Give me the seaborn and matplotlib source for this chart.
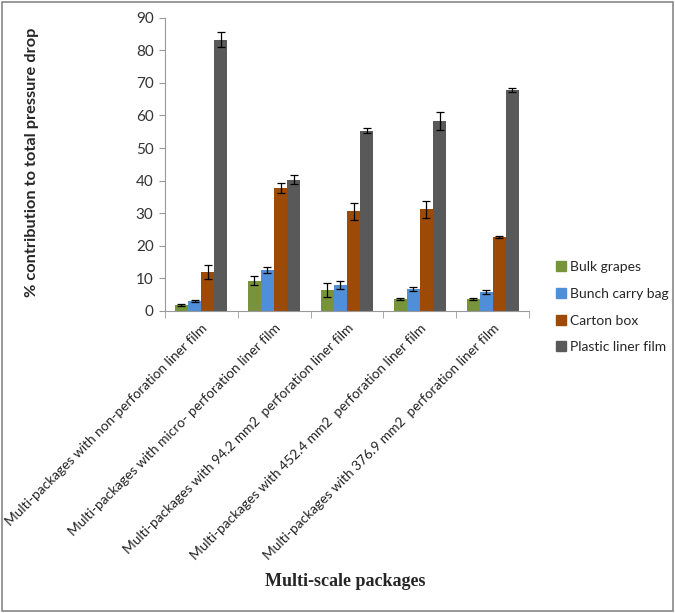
import matplotlib
matplotlib.use("Agg")
import matplotlib.pyplot as plt
import seaborn as sns
import pandas as pd
import numpy as np
from matplotlib.patches import Rectangle
from matplotlib.lines import Line2D

categories = [
    "Multi-packages with non-perforation liner film",
    "Multi-packages with micro- perforation liner film",
    "Multi-packages with 94.2 mm2  perforation liner film",
    "Multi-packages with 452.4 mm2  perforation liner film",
    "Multi-packages with 376.9 mm2  perforation liner film",
]
series = ["Bulk grapes", "Bunch carry bag", "Carton box", "Plastic liner film"]
bulk = [1.8, 9.3, 6.3, 3.6, 3.6]
bunch = [3.0, 12.6, 8.0, 6.7, 5.7]
carton = [12.0, 37.7, 30.5, 31.2, 22.6]
plastic = [83.3, 40.3, 55.3, 58.4, 67.9]
bulk_err = [0.3, 1.3, 2.2, 0.2, 0.3]
bunch_err = [0.3, 1.0, 1.2, 0.5, 0.6]
carton_err = [2.2, 1.5, 2.6, 2.6, 0.3]
plastic_err = [2.2, 1.3, 0.8, 2.8, 0.6]
colors = ["#77933C", "#4F8ED8", "#9C4A06", "#595959"]

values = [bulk, bunch, carton, plastic]
errs = [bulk_err, bunch_err, carton_err, plastic_err]
rows = []
for s, v in zip(series, values):
    for c, val in zip(categories, v):
        rows.append({"cat": c, "series": s, "val": val})
df = pd.DataFrame(rows)

sns.set_style("white")
plt.rcParams["font.family"] = ["Lato", "DejaVu Sans"]

fig = plt.figure(figsize=(6.75, 6.13), dpi=100)
ax = fig.add_axes([0.244, 0.493, 0.540, 0.478])
sns.barplot(data=df, x="cat", y="val", hue="series", order=categories,
            hue_order=series, palette=colors, width=0.72, gap=0,
            errorbar=None, saturation=1, ax=ax, legend=False, linewidth=0)

# error bars from bar patches
bar_conts = list(ax.containers)
for i, cont in enumerate(bar_conts):
    xs = [p.get_x() + p.get_width() / 2 for p in cont.patches]
    hs = [p.get_height() for p in cont.patches]
    ax.errorbar(xs, hs, yerr=errs[i], fmt="none", ecolor="black",
                elinewidth=0.9, capsize=3, capthick=0.9)

ax.set_ylim(0, 90)
ax.set_yticks(range(0, 91, 10))
ax.set_xlim(-0.5, 4.5)
ax.set_xlabel("")
ax.set_ylabel("")
ax.tick_params(axis="y", labelsize=11, colors="#333333", length=4,
               left=True, direction="out", color="#999999", pad=4)
ax.set_xticks(range(5))
ax.set_xticklabels(categories, rotation=45, ha="right", rotation_mode="anchor",
                   fontsize=9.9, color="#222222")
ax.tick_params(axis="x", length=0, pad=8)
ax.set_xticks(np.arange(-0.5, 5, 1), minor=True)
ax.tick_params(axis="x", which="minor", length=5, color="#999999", bottom=True)
for sp in ["top", "right"]:
    ax.spines[sp].set_visible(False)
for sp in ["left", "bottom"]:
    ax.spines[sp].set_color("#999999")
    ax.spines[sp].set_linewidth(0.8)

fig.text(32 / 675, 0.735, "% contribution to total pressure drop", rotation=90,
         ha="center", va="center", fontsize=11.8, fontweight="bold")
fig.text(0.512, 0.051, "Multi-scale packages", ha="center", va="center",
         fontsize=13, fontweight="bold", family=["Liberation Serif", "DejaVu Serif"])

handles = [Line2D([0], [0], marker="s", linestyle="none", markersize=7,
                  markerfacecolor=c, markeredgecolor=c) for c in colors]
fig.legend(handles, series, loc="upper left", bbox_to_anchor=(0.812, 0.585),
           frameon=False, fontsize=10, handletextpad=0.15, labelspacing=1.05,
           handlelength=0.9, borderpad=0)

fig.patches.append(Rectangle((0.003, 0.004), 0.994, 0.992, transform=fig.transFigure,
                             fill=False, edgecolor="#888888", linewidth=1.2))
fig.savefig("out.png", dpi=100)
